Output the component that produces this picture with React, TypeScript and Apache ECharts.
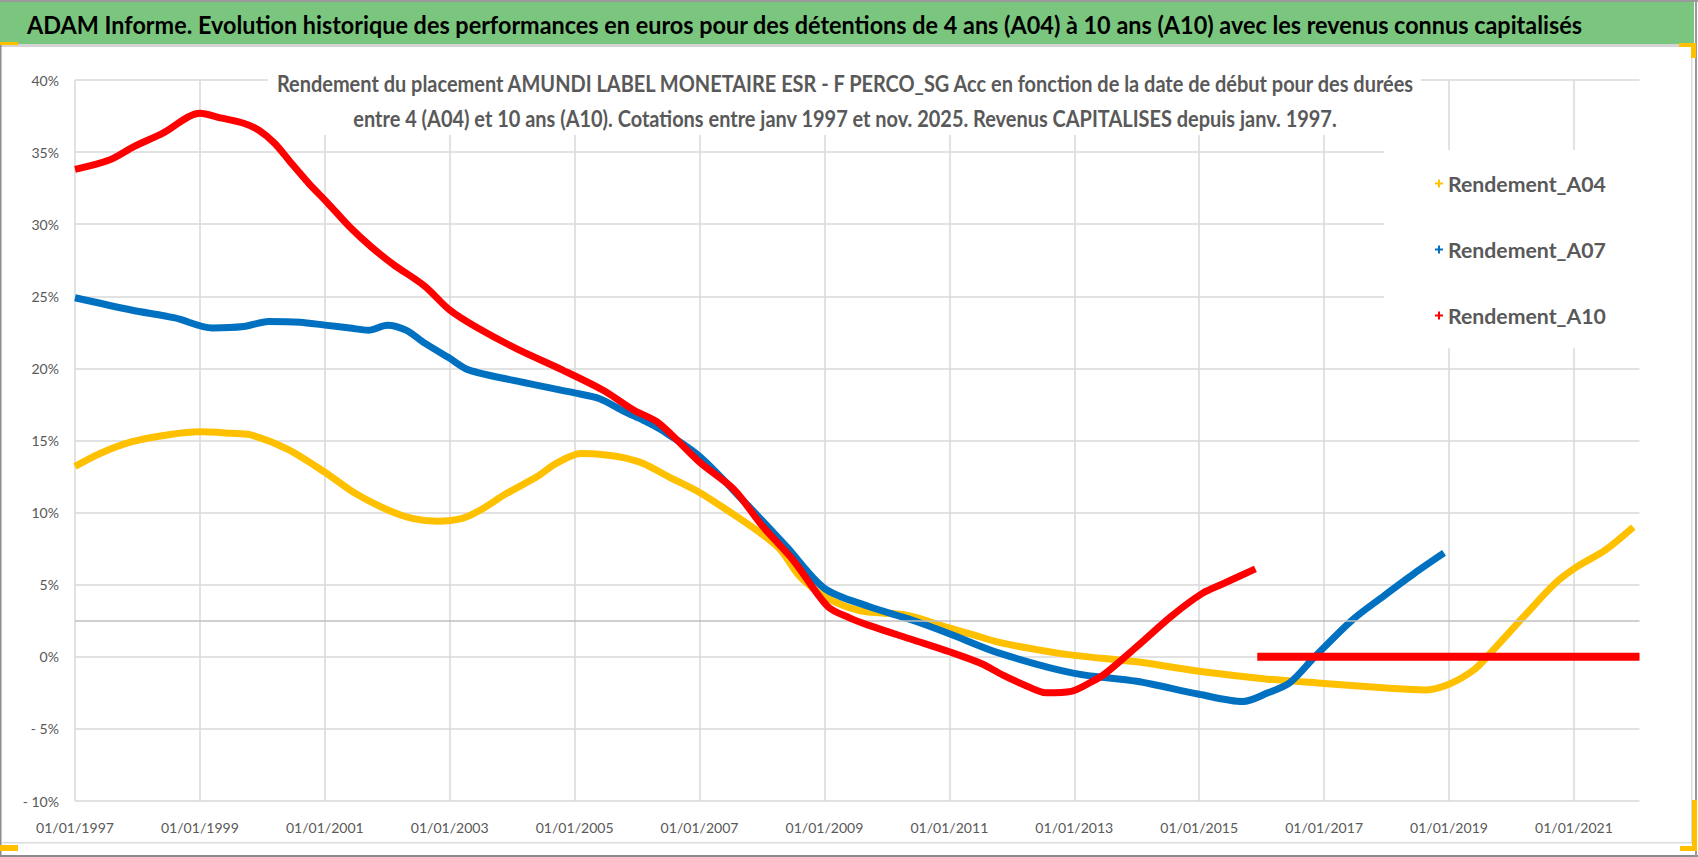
import React, { useEffect, useRef } from "react";
import * as echarts from "echarts";

// ---------- texts ----------
const TITLE =
  "ADAM Informe. Evolution historique des performances en euros pour des détentions de 4 ans (A04) à 10 ans (A10) avec les revenus connus capitalisés";
const SUBTITLE_1 =
  "Rendement du placement AMUNDI LABEL MONETAIRE ESR - F PERCO_SG Acc en fonction de la date de début pour des durées";
const SUBTITLE_2 =
  "entre 4 (A04) et 10 ans (A10). Cotations entre janv 1997 et nov. 2025. Revenus CAPITALISES depuis janv. 1997.";
const SERIES_NAMES = ["Rendement_A04", "Rendement_A07", "Rendement_A10"];

// ---------- axes ----------
const BASE_YEAR = 1997; // first date: 01/01/1997
const X_MAX_YEAR = 2022.05;
const X_STEP_YEARS = 2;
const Y_MIN = -10;
const Y_MAX = 40;
const Y_STEP = 5;

// ---------- data (start date as fractional year, yield in %) ----------
const a04Years = [
  1997.0, 1997.4, 1997.9, 1998.5, 1999.0, 1999.5, 1999.8, 2000.4, 2001.0, 2001.5,
  2002.0, 2002.4, 2002.8, 2003.2, 2003.5, 2003.9, 2004.4, 2004.7, 2005.1, 2005.5,
  2005.8, 2006.1, 2006.5, 2007.0, 2007.5, 2008.0, 2008.3, 2008.6, 2009.0, 2009.4,
  2009.7, 2010.3, 2011.0, 2011.4, 2011.8, 2012.4, 2013.0, 2014.0, 2015.0, 2016.1,
  2017.0, 2018.1, 2018.6, 2019.0, 2019.4, 2019.65, 2020.2, 2020.7, 2021.05, 2021.5,
  2021.95,
];
const a04Values = [
  13.2, 14.1, 14.9, 15.4, 15.6, 15.5, 15.4, 14.4, 12.8, 11.3,
  10.2, 9.6, 9.4, 9.6, 10.2, 11.3, 12.5, 13.4, 14.1, 14.0,
  13.8, 13.4, 12.5, 11.4, 10.0, 8.5, 7.4, 5.6, 4.2, 3.4,
  3.1, 2.9, 2.0, 1.5, 1.0, 0.5, 0.1, -0.35, -1.0, -1.55,
  -1.85, -2.2, -2.3, -1.9, -0.9, 0.2, 2.8, 5.1, 6.25, 7.4,
  9.0,
];

const a07Years = [
  1997.0, 1997.9, 1998.6, 1999.2, 1999.7, 2000.1, 2000.6, 2001.0, 2001.4, 2001.7,
  2002.0, 2002.3, 2002.6, 2003.0, 2003.3, 2004.1, 2005.0, 2005.4, 2005.8, 2006.1,
  2006.4, 2007.0, 2007.75, 2008.4, 2009.0, 2009.7, 2010.4, 2011.0, 2011.8, 2013.0,
  2014.0, 2015.0, 2015.7, 2016.1, 2016.45, 2016.85, 2017.45, 2017.95, 2018.45, 2018.92,
];
const a07Values = [
  24.9, 24.05, 23.5, 22.8, 22.9, 23.25, 23.2, 23.0, 22.8, 22.65,
  23.0, 22.65, 21.75, 20.7, 19.9, 19.1, 18.3, 17.9, 17.0, 16.4,
  15.7, 13.9, 10.6, 7.6, 4.75, 3.5, 2.55, 1.6, 0.25, -1.15,
  -1.7, -2.6, -3.1, -2.5, -1.8, 0.0, 2.55, 4.2, 5.8, 7.2,
];

const a10Years = [
  1997.0, 1997.55, 1997.95, 1998.4, 1999.0, 1999.35, 1999.7, 1999.95, 2000.2, 2000.45,
  2000.75, 2001.05, 2001.4, 2001.75, 2002.1, 2002.6, 2003.0, 2003.45, 2004.1, 2004.8,
  2005.45, 2005.95, 2006.35, 2007.0, 2007.55, 2008.0, 2008.5, 2009.05, 2009.4, 2009.7,
  2010.4, 2011.0, 2011.5, 2011.85, 2012.2, 2012.55, 2012.95, 2013.25, 2013.5, 2014.0,
  2014.55, 2015.05, 2015.4, 2015.9,
];
const a10Values = [
  33.8, 34.45, 35.4, 36.3, 37.7, 37.35, 37.0, 36.5, 35.6, 34.3,
  32.8, 31.45, 29.8, 28.4, 27.2, 25.7, 24.05, 22.8, 21.3, 19.9,
  18.5, 17.1, 16.2, 13.5, 11.6, 9.1, 6.7, 3.5, 2.7, 2.2,
  1.2, 0.35, -0.45, -1.25, -1.95, -2.5, -2.4, -1.8, -1.15, 0.7,
  2.8, 4.4, 5.1, 6.1,
];

// A10 start dates without 10 years of history: plotted at 0
const a10ZeroYears = [2015.93, 2022.05];
const a10ZeroValues = [0, 0];

// horizontal axis crossing value
const AXIS_CROSS_VALUE = 2.5;

// ---------- styles ----------
const COLORS = ["#FFC000", "#0070C0", "#FF0000"];
const FONT = "Lato, 'Noto Sans', 'DejaVu Sans', sans-serif";
const GRAY_TEXT = "#595959";
const GRID_COLOR = "#d9d9d9";

function toPairs(years: number[], values: number[]) {
  return years.map((y, i) => [y - BASE_YEAR, values[i]]);
}

function measure(text: string, weight: string, size: number): number {
  const c = document.createElement("canvas");
  const ctx = c.getContext("2d");
  if (!ctx) return text.length * size * 0.5;
  ctx.font = `${weight} ${size}px ${FONT}`;
  return ctx.measureText(text).width || text.length * size * 0.5;
}

export default function App() {
  const ref = useRef<HTMLDivElement>(null);

  useEffect(() => {
    if (!ref.current) return;
    const chart = echarts.init(ref.current, undefined, { renderer: "svg" });

    const titleSize = 25.5;
    const titleScale = 1556 / measure(TITLE, "bold", titleSize);
    const subSize = 23;
    const subScale = 1140 / measure(SUBTITLE_1, "bold", subSize);
    const legendSize = (100 * 158) / measure(SERIES_NAMES[0], "bold", 100);
    const axisSize = (100 * 78) / measure("01/01/1997", "normal", 100);

    const lineSeries = SERIES_NAMES.map((name, i) => {
      const src =
        i === 0 ? [a04Years, a04Values] : i === 1 ? [a07Years, a07Values] : [a10Years, a10Values];
      return {
        name,
        type: "line",
        data: toPairs(src[0], src[1]),
        showSymbol: false,
        symbol: "none",
        smooth: 0.3,
        silent: true,
        z: 3 + i,
        lineStyle: { color: COLORS[i], width: 7 },
        itemStyle: { color: COLORS[i] },
      };
    });

    const option: any = {
      animation: false,
      backgroundColor: "#ffffff",
      grid: { left: 75, right: 58.5, top: 80, bottom: 56, containLabel: false },
      xAxis: {
        type: "value",
        min: 0,
        max: X_MAX_YEAR - BASE_YEAR,
        interval: X_STEP_YEARS,
        axisLine: { show: false },
        axisTick: { show: false },
        axisLabel: {
          formatter: (v: number) => `01/01/${BASE_YEAR + Math.round(v)}`,
          color: GRAY_TEXT,
          fontFamily: FONT,
          fontSize: axisSize,
          margin: 19,
          showMaxLabel: false,
        },
        splitLine: {
          show: true,
          showMaxLine: false,
          lineStyle: { color: GRID_COLOR, width: 1.5 },
        },
      },
      yAxis: {
        type: "value",
        min: Y_MIN,
        max: Y_MAX,
        interval: Y_STEP,
        axisLine: { show: false },
        axisTick: { show: false },
        axisLabel: {
          formatter: (v: number) => (v < 0 ? `- ${-v}%` : `${v}%`),
          color: GRAY_TEXT,
          fontFamily: FONT,
          fontSize: axisSize,
          margin: 16,
        },
        splitLine: { show: true, lineStyle: { color: GRID_COLOR, width: 1.5 } },
      },
      legend: {
        data: SERIES_NAMES,
        orient: "vertical",
        left: 1430,
        top: 166,
        itemWidth: 8,
        itemHeight: 8,
        itemGap: 41,
        icon: "path://M3,0H5V3H8V5H5V8H3V5H0V3H3Z",
        selectedMode: false,
        textStyle: {
          color: GRAY_TEXT,
          fontWeight: "bold",
          fontFamily: FONT,
          fontSize: legendSize,
          lineHeight: 25,
        },
      },
      series: [
        {
          name: "axis_cross",
          type: "line",
          data: [],
          z: 1,
          silent: true,
          markLine: {
            silent: true,
            symbol: ["none", "none"],
            label: { show: false },
            lineStyle: { color: "#bfbfbf", width: 1.5, type: "solid" },
            data: [{ yAxis: AXIS_CROSS_VALUE }],
          },
        },
        ...lineSeries,
        {
          name: "Rendement_A10_zero",
          type: "line",
          data: toPairs(a10ZeroYears, a10ZeroValues),
          showSymbol: false,
          symbol: "none",
          silent: true,
          z: 6,
          lineStyle: { color: COLORS[2], width: 8 },
          itemStyle: { color: COLORS[2] },
        },
      ],
      graphic: [
        // frame
        { type: "rect", z: 1, shape: { x: 0, y: 0, width: 1698, height: 2 }, style: { fill: "#9a9a9a" } },
        { type: "rect", z: 1, shape: { x: 0, y: 2, width: 1694, height: 42 }, style: { fill: "#7BC67E" } },
        { type: "rect", z: 1, shape: { x: 0, y: 44, width: 1694, height: 3 }, style: { fill: "#d4d4d4" } },
        { type: "rect", z: 1, shape: { x: 0, y: 44, width: 1.5, height: 813 }, style: { fill: "#8c8c8c" } },
        { type: "rect", z: 1, shape: { x: 0, y: 855, width: 1698, height: 2 }, style: { fill: "#8c8c8c" } },
        { type: "rect", z: 1, shape: { x: 1695, y: 0, width: 2, height: 857 }, style: { fill: "#9a9a9a" } },
        { type: "rect", z: 1, shape: { x: 2, y: 842, width: 1690, height: 1.5 }, style: { fill: "#dcdcdc" } },
        { type: "rect", z: 1, shape: { x: 1691, y: 47, width: 1.5, height: 796 }, style: { fill: "#dcdcdc" } },
        // selection marks
        { type: "rect", z: 2, shape: { x: 0, y: 42, width: 18, height: 3 }, style: { fill: "#FFC000" } },
        { type: "rect", z: 2, shape: { x: 1679, y: 43, width: 17, height: 4 }, style: { fill: "#FFC000" } },
        { type: "rect", z: 2, shape: { x: 1691, y: 43, width: 5, height: 15 }, style: { fill: "#FFC000" } },
        { type: "rect", z: 2, shape: { x: 0, y: 845, width: 18, height: 6 }, style: { fill: "#FFC000" } },
        { type: "rect", z: 2, shape: { x: 1692, y: 800, width: 5, height: 51 }, style: { fill: "#FFC000" } },
        { type: "rect", z: 2, shape: { x: 1680, y: 846, width: 17, height: 5 }, style: { fill: "#FFC000" } },
        // white boxes behind subtitle and legend
        { type: "rect", z: 1, shape: { x: 268, y: 66, width: 1153, height: 69 }, style: { fill: "#ffffff" } },
        { type: "rect", z: 1, shape: { x: 1384, y: 150, width: 262, height: 198 }, style: { fill: "#ffffff" } },
        // title
        {
          type: "text",
          z: 10,
          x: 27,
          y: 24,
          scaleX: titleScale,
          style: {
            text: TITLE,
            fill: "#000000",
            fontFamily: FONT,
            fontSize: titleSize,
            fontWeight: "bold",
            align: "left",
            verticalAlign: "middle",
          },
        },
        {
          type: "text",
          z: 10,
          x: 845,
          y: 83,
          scaleX: subScale,
          style: {
            text: SUBTITLE_1,
            fill: GRAY_TEXT,
            fontFamily: FONT,
            fontSize: subSize,
            fontWeight: "bold",
            align: "center",
            verticalAlign: "middle",
          },
        },
        {
          type: "text",
          z: 10,
          x: 845,
          y: 118,
          scaleX: subScale,
          style: {
            text: SUBTITLE_2,
            fill: GRAY_TEXT,
            fontFamily: FONT,
            fontSize: subSize,
            fontWeight: "bold",
            align: "center",
            verticalAlign: "middle",
          },
        },
      ],
    };

    chart.setOption(option);
    return () => chart.dispose();
  }, []);

  return (
    <div
      ref={ref}
      style={{ position: "absolute", left: 0, top: 0, width: 1698, height: 857, background: "#fff" }}
    />
  );
}
